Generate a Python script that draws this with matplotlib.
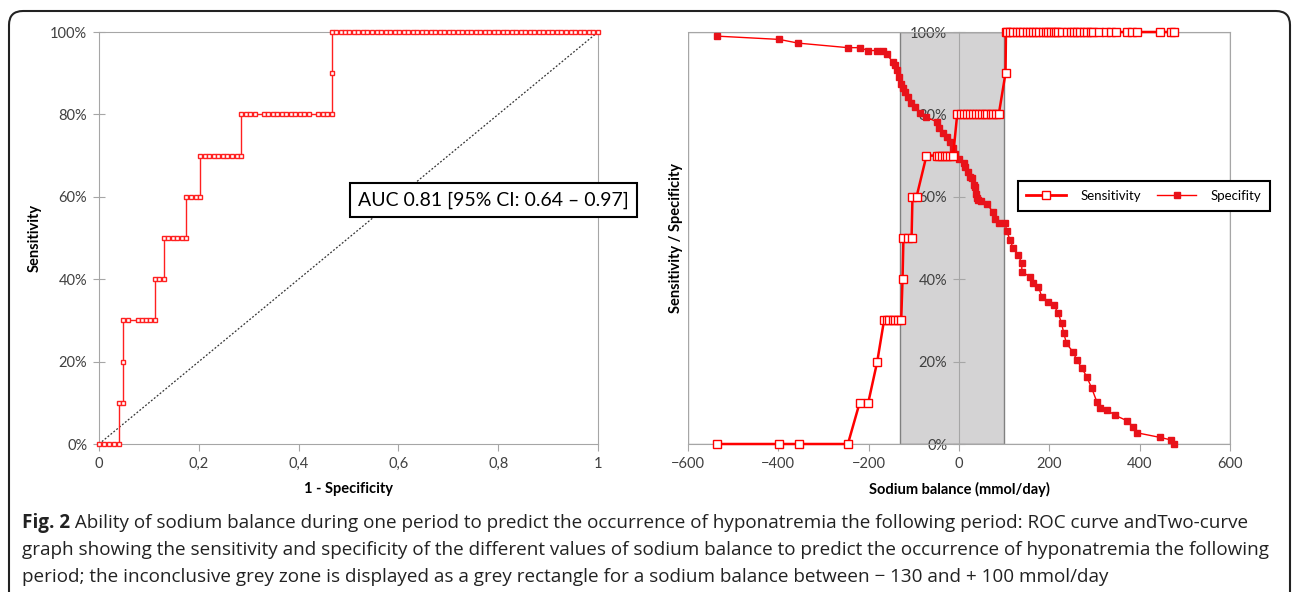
import matplotlib
matplotlib.use("Agg")
import matplotlib.pyplot as plt
from matplotlib.patches import FancyBboxPatch
from matplotlib.lines import Line2D
from matplotlib.transforms import IdentityTransform

# ROC curve (left), one list of false positive rates per sensitivity level
roc_levels = [0.0, 0.1, 0.2, 0.3, 0.4, 0.5, 0.6, 0.7, 0.8, 0.9, 1.0]
roc_fpr_by_level = [
    [0.0, 0.01, 0.02, 0.03, 0.04],
    [0.04, 0.048],
    [0.048],
    [0.048, 0.058, 0.078, 0.087, 0.095, 0.103, 0.112],
    [0.112, 0.121, 0.13],
    [0.13, 0.139, 0.148, 0.157, 0.166, 0.175],
    [0.175, 0.185, 0.194, 0.203],
    [0.203, 0.212, 0.221, 0.230, 0.239, 0.248, 0.257, 0.266, 0.276, 0.285],
    [0.285, 0.294, 0.303, 0.312, 0.330, 0.339, 0.348, 0.357, 0.366, 0.375,
     0.384, 0.393, 0.402, 0.411, 0.420, 0.439, 0.448, 0.457, 0.466],
    [0.466],
    [0.466, 0.475, 0.484, 0.493, 0.502, 0.511, 0.520, 0.529, 0.538, 0.547,
     0.557, 0.566, 0.575, 0.584, 0.593, 0.602, 0.611, 0.620, 0.629, 0.638,
     0.647, 0.656, 0.665, 0.674, 0.683, 0.692, 0.701, 0.710, 0.719, 0.728,
     0.737, 0.746, 0.755, 0.764, 0.773, 0.782, 0.791, 0.800, 0.809, 0.818,
     0.827, 0.836, 0.845, 0.854, 0.863, 0.872, 0.881, 0.890, 0.899, 0.908,
     0.917, 0.926, 0.935, 0.945, 0.954, 0.963, 0.972, 0.981, 0.990, 1.0],
]
roc_xticks = [0, 0.2, 0.4, 0.6, 0.8, 1]
roc_xticklabels = ["0", "0,2", "0,4", "0,6", "0,8", "1"]
pct_ticks = [0, 0.2, 0.4, 0.6, 0.8, 1.0]
pct_labels = ["0%", "20%", "40%", "60%", "80%", "100%"]
auc_text = "AUC 0.81 [95% CI: 0.64 \u2013 0.97]"

# two-curve graph (right)
sens_levels = [0.0, 0.1, 0.2, 0.3, 0.4, 0.5, 0.6, 0.7, 0.8, 0.9, 1.0]
sens_x_by_level = [
    [-535, -398, -355, -246],
    [-220, -201],
    [-181],
    [-166, -160, -155, -147, -141, -135, -128],
    [-125],
    [-123, -114, -105],
    [-103, -94],
    [-72, -49, -44, -38, -31, -26, -20, -13],
    [-4, 5, 12, 18, 25, 32, 38, 45, 52, 58, 63, 70, 75, 82, 88],
    [103],
    [104, 107, 113, 120, 128, 134, 141, 151, 157, 163, 170, 178, 187, 192,
     198, 203, 210, 215, 220, 227, 240, 247, 255, 262, 269, 277, 284, 292,
     297, 311, 325, 336, 348, 371, 382, 393, 445, 469, 476],
]
spec_x = [-536, -398, -356, -246, -219, -202, -182, -168, -160, -147, -142,
          -137, -133, -129, -125, -120, -114, -107, -97, -86, -72, -49, -44,
          -35, -27, -20, -14, -9, 1, 10, 13, 21, 24, 28, 33, 35, 38, 39, 43,
          48, 61, 75, 80, 89, 102, 106, 113, 120, 131, 139, 139, 157, 163,
          176, 183, 198, 210, 220, 227, 232, 238, 252, 261, 272, 283, 294,
          305, 312, 327, 345, 371, 386, 395, 445, 469, 475]
spec_y = [0.990, 0.982, 0.973, 0.962, 0.962, 0.955, 0.955, 0.955, 0.946,
          0.928, 0.920, 0.908, 0.891, 0.875, 0.863, 0.855, 0.843, 0.828,
          0.817, 0.804, 0.793, 0.782, 0.766, 0.754, 0.746, 0.734, 0.718,
          0.705, 0.691, 0.681, 0.673, 0.659, 0.649, 0.645, 0.629, 0.625,
          0.608, 0.596, 0.592, 0.590, 0.583, 0.564, 0.545, 0.536, 0.536,
          0.516, 0.495, 0.475, 0.459, 0.439, 0.418, 0.406, 0.390, 0.382,
          0.358, 0.345, 0.337, 0.317, 0.293, 0.269, 0.244, 0.224, 0.204,
          0.184, 0.163, 0.135, 0.103, 0.087, 0.083, 0.070, 0.057, 0.042,
          0.027, 0.016, 0.010, 0.0]
na_xticks = [-600, -400, -200, 0, 200, 400, 600]
grey_zone = (-130, 100)

caption_bold = "Fig. 2"
caption_lines = [
    " Ability of sodium balance during one period to predict the occurrence of hyponatremia the following period: ROC curve andTwo-curve",
    "graph showing the sensitivity and specificity of the different values of sodium balance to predict the occurrence of hyponatremia the following",
    "period; the inconclusive grey zone is displayed as a grey rectangle for a sodium balance between \u2212 130 and + 100 mmol/day",
]

roc_x = [v for lv in roc_fpr_by_level for v in lv]
roc_y = [lvl for lvl, lv in zip(roc_levels, roc_fpr_by_level) for v in lv]
sens_x = [v for lv in sens_x_by_level for v in lv]
sens_y = [lvl for lvl, lv in zip(sens_levels, sens_x_by_level) for v in lv]

plt.rcParams["font.family"] = ["Lato", "DejaVu Sans"]
axis_grey = "#a6a6a6"
tick_col = "#404040"
W, H = 1292, 592

fig = plt.figure(figsize=(W / 100, H / 100), dpi=100)
ax1 = fig.add_axes([99 / W, 148 / H, 499 / W, 412 / H])
ax2 = fig.add_axes([688 / W, 148 / H, 542 / W, 412 / H])

# ---- left: ROC
ax1.plot([0, 1], [0, 1], color="#333333", ls=(0, (1.5, 1.5)), lw=0.9, zorder=2)
ax1.plot(roc_x, roc_y, color="#ff2020", lw=1, marker="s", ms=3.2,
         mfc="white", mec="#ff2020", mew=1, clip_on=False, zorder=3)
ax1.set_xlim(0, 1)
ax1.set_ylim(0, 1)
ax1.set_xticks(roc_xticks)
ax1.set_xticklabels(roc_xticklabels)
ax1.set_yticks(pct_ticks)
ax1.set_yticklabels(pct_labels)
ax1.text(0.79, 0.592, auc_text, transform=ax1.transData, fontsize=14,
         ha="center", va="center", zorder=5,
         bbox=dict(boxstyle="square,pad=0.42", fc="white", ec="black", lw=1.5))
ax1.tick_params(axis="y", direction="inout", length=9, color=axis_grey,
                labelsize=10.5, labelcolor=tick_col, pad=4)
ax1.tick_params(axis="x", direction="out", length=5, color=axis_grey,
                labelsize=10.5, labelcolor=tick_col, pad=4)
for s in ax1.spines.values():
    s.set_color(axis_grey)

# ---- right: two-curve graph
ax2.axvspan(grey_zone[0], grey_zone[1], fc="#d4d3d4", ec="#808080", lw=1, zorder=0.5)
ax2.plot(spec_x, spec_y, color="#ff0000", lw=1, marker="s", ms=4.6,
         mfc="#e8121a", mec="#e8121a", clip_on=False, zorder=3)
ax2.plot(sens_x, sens_y, color="#ff0000", lw=1.8, marker="s", ms=5.5,
         mfc="white", mec="#ff0000", mew=1, clip_on=False, zorder=4)
ax2.set_xlim(-600, 600)
ax2.set_ylim(0, 1)
ax2.set_xticks(na_xticks)
ax2.set_yticks(pct_ticks)
ax2.set_yticklabels(pct_labels)
ax2.spines["left"].set_position(("data", 0))
for s in ax2.spines.values():
    s.set_color(axis_grey)
ax2.spines["left"].set_zorder(1)
ax2.add_patch(plt.Rectangle((0, 0), 1, 1, transform=ax2.transAxes, fill=False,
                            ec=axis_grey, lw=1, zorder=0.6))
ax2.tick_params(axis="y", direction="inout", length=9, color=axis_grey,
                labelsize=10.5, labelcolor=tick_col, pad=4)
ax2.tick_params(axis="x", direction="out", length=5, color=axis_grey,
                labelsize=10.5, labelcolor=tick_col, pad=4)

leg_handles = [
    Line2D([], [], color="#ff0000", lw=2, marker="s", ms=5.5, mfc="white", mec="#ff0000"),
    Line2D([], [], color="#ff0000", lw=1, marker="s", ms=4.5, mfc="#e8121a", mec="#e8121a"),
]
leg = fig.legend(leg_handles, ["Sensitivity", "Specifity"], loc="center",
                 bbox_to_anchor=(1144 / W, 1 - 196 / H), ncol=2, fancybox=False,
                 edgecolor="black", framealpha=1, fontsize=9.5, handlelength=3.0,
                 columnspacing=1.2, borderpad=0.65, handletextpad=1.1,
                 borderaxespad=0)
leg.get_frame().set_linewidth(1.5)
leg.set_zorder(10)

# axis titles
fig.text(35 / W, 1 - 238 / H, "Sensitivity", rotation=90, fontsize=10.5,
         fontweight="bold", ha="center", va="center")
fig.text(676 / W, 1 - 238 / H, "Sensitivity / Specificity", rotation=90,
         fontsize=10.5, fontweight="bold", ha="center", va="center")
fig.text(348 / W, 1 - 489 / H, "1 - Specificity", fontsize=10.5,
         fontweight="bold", ha="center", va="center")
fig.text(959 / W, 1 - 489 / H, "Sodium balance (mmol/day)", fontsize=10.5,
         fontweight="bold", ha="center", va="center")

# caption
cap_fs = 13.6
cap_font = ["Open Sans", "DejaVu Sans"]
t0 = fig.text(22 / W, 1 - 523 / H, caption_bold, fontsize=cap_fs,
              fontweight="bold", family=cap_font,
              ha="left", va="center", color="#222222")
fig.canvas.draw()
bb = t0.get_window_extent()
fig.text(bb.x1 / W, 1 - 523 / H, caption_lines[0], fontsize=cap_fs,
         family=cap_font, ha="left", va="center", color="#222222")
for i, line in enumerate(caption_lines[1:]):
    fig.text(22 / W, 1 - (550 + 27 * i) / H, line, fontsize=cap_fs,
             family=cap_font, ha="left", va="center", color="#222222")

# rounded frame around the figure
frame = FancyBboxPatch((9, -30), 1281, 611, boxstyle="round,pad=0,rounding_size=14",
                       transform=IdentityTransform(), fill=False, ec="#222222", lw=1.5)
fig.patches.append(frame)

fig.savefig("out.png", dpi=100)
